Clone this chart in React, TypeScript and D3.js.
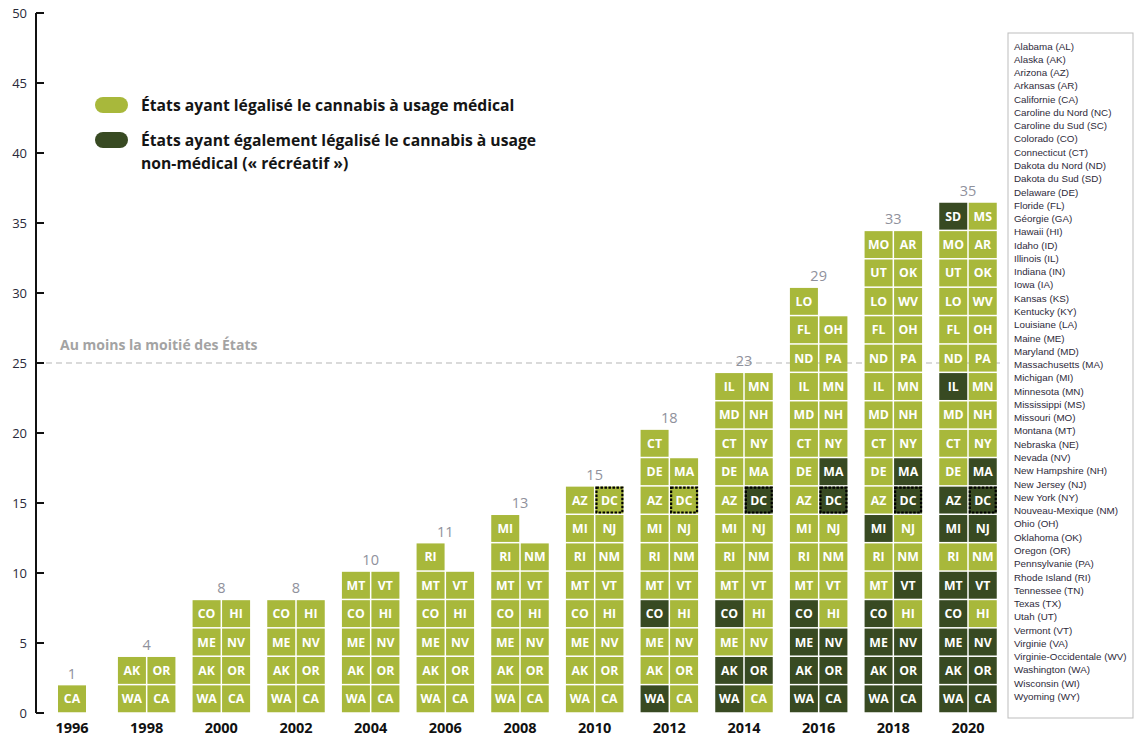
import React from "react";
import * as d3 from "d3";

const years = [1996, 1998, 2000, 2002, 2004, 2006, 2008, 2010, 2012, 2014, 2016, 2018, 2020];
const countLabels = [1, 4, 8, 8, 10, 11, 13, 15, 18, 23, 29, 33, 35];
const cellCounts = [1, 4, 8, 8, 10, 11, 13, 16, 19, 24, 29, 34, 36];
const stateStack = [
  "WA", "CA", "AK", "OR", "ME", "NV", "CO", "HI", "MT", "VT", "RI", "NM",
  "MI", "NJ", "AZ", "DC", "DE", "MA", "CT", "NY", "MD", "NH", "IL", "MN",
  "ND", "PA", "FL", "OH", "LO", "WV", "UT", "OK", "MO", "AR", "SD", "MS",
];
const firstYearStates = ["CA"];
const recreationalByYear = [
  "", "", "", "", "", "", "", "",
  "WA CO",
  "WA AK OR CO DC",
  "WA CA AK OR ME NV CO DC MA",
  "WA CA AK OR ME NV CO VT MI DC MA",
  "WA CA AK OR ME NV CO MT VT MI NJ AZ DC MA IL SD",
];
const dottedStates = ["DC"];
const yTicks = [0, 5, 10, 15, 20, 25, 30, 35, 40, 45, 50];
const halfLine = 25;
const legendItems = [
  ["États ayant légalisé le cannabis à usage médical"],
  ["États ayant également légalisé le cannabis à usage", "non-médical (« récréatif »)"],
];
const stateNames = [
  "Alabama (AL)", "Alaska (AK)", "Arizona (AZ)", "Arkansas (AR)", "Californie (CA)",
  "Caroline du Nord (NC)", "Caroline du Sud (SC)", "Colorado (CO)", "Connecticut (CT)",
  "Dakota du Nord (ND)", "Dakota du Sud (SD)", "Delaware (DE)", "Floride (FL)",
  "Géorgie (GA)", "Hawaii (HI)", "Idaho (ID)", "Illinois (IL)", "Indiana (IN)",
  "Iowa (IA)", "Kansas (KS)", "Kentucky (KY)", "Louisiane (LA)", "Maine (ME)",
  "Maryland (MD)", "Massachusetts (MA)", "Michigan (MI)", "Minnesota (MN)",
  "Mississippi (MS)", "Missouri (MO)", "Montana (MT)", "Nebraska (NE)", "Nevada (NV)",
  "New Hampshire (NH)", "New Jersey (NJ)", "New York (NY)", "Nouveau-Mexique (NM)",
  "Ohio (OH)", "Oklahoma (OK)", "Oregon (OR)", "Pennsylvanie (PA)", "Rhode Island (RI)",
  "Tennessee (TN)", "Texas (TX)", "Utah (UT)", "Vermont (VT)", "Virginie (VA)",
  "Virginie-Occidentale (WV)", "Washington (WA)", "Wisconsin (WI)", "Wyoming (WY)",
];

const LIGHT = "#a8b83b";
const DARK = "#384a22";
const FONT = "'Open Sans', Lato, sans-serif";
const LIST_FONT = "'Liberation Sans', Arial, sans-serif";

export default function App() {
  const W = 1135;
  const H = 738;
  const y = d3.scaleLinear().domain([0, 50]).range([713, 13]);
  const yCell = d3.scaleLinear().domain([0, 36]).range([713, 202]);
  const x = d3.scalePoint<number>().domain(years).range([72, 968]);
  const cellW = 29.5;
  const listY = d3.scaleLinear().domain([0, stateNames.length - 1]).range([49.5, 700]);

  const cells: any[] = [];
  const labels: any[] = [];
  years.forEach((yr, i) => {
    const cx = x(yr)!;
    const list = i === 0 ? firstYearStates : stateStack.slice(0, cellCounts[i]);
    const rec = recreationalByYear[i].split(" ").filter(Boolean);
    let topY = 713;
    list.forEach((s, k) => {
      const row = Math.floor(k / 2);
      const col = k % 2;
      const x0 = list.length === 1 ? cx - cellW / 2 : cx - cellW + col * cellW;
      const yb = yCell(row * 2);
      const yt = yCell(row * 2 + 2);
      topY = Math.min(topY, yt);
      const dark = rec.includes(s);
      cells.push(
        <g key={`${yr}-${s}`}>
          <rect x={x0 + 0.75} y={yt + 0.75} width={cellW - 1.5} height={yb - yt - 1.5} fill={dark ? DARK : LIGHT} />
          {dottedStates.includes(s) && yr >= 2010 && (
            <rect x={x0 + 1.8} y={yt + 1.8} width={cellW - 3.6} height={yb - yt - 3.6} fill="none" stroke="#000" strokeWidth={2.2} strokeDasharray="2.5,1.5" />
          )}
          <text x={x0 + cellW / 2} y={(yt + yb) / 2 + 4.5} textAnchor="middle" fill="#fff" fontFamily={FONT} fontWeight={700} fontSize={12.3}>
            {s}
          </text>
        </g>
      );
    });
    labels.push(
      <text key={`c${yr}`} x={cx} y={topY - 6} textAnchor="middle" fill="#8f919c" fontFamily={FONT} fontSize={14.5}>
        {countLabels[i]}
      </text>
    );
    labels.push(
      <text key={`y${yr}`} x={cx} y={733} textAnchor="middle" fill="#111" fontFamily={FONT} fontWeight={700} fontSize={14.5}>
        {yr}
      </text>
    );
  });

  return (
    <svg width={W} height={H} style={{ position: "absolute", left: 0, top: 0, display: "block", background: "#fff" }}>
      {/* half line */}
      <line x1={36} x2={1000} y1={y(halfLine)} y2={y(halfLine)} stroke="#b5b5b5" strokeWidth={1.2} strokeDasharray="6,4" />
      <text x={60} y={y(halfLine) - 13} fill="#a3a3a3" fontFamily={FONT} fontWeight={700} fontSize={14}>
        Au moins la moitié des États
      </text>
      {/* axis */}
      <line x1={36} x2={36} y1={y(50)} y2={y(0)} stroke="#111" strokeWidth={2} />
      {yTicks.map((t) => (
        <g key={t}>
          <line x1={36} x2={44} y1={y(t)} y2={y(t)} stroke="#111" strokeWidth={2} />
          <text x={27} y={y(t) + 5} textAnchor="end" fill="#2a2a3a" fontFamily={FONT} fontSize={13}>
            {t}
          </text>
        </g>
      ))}
      {cells}
      {labels}
      {/* legend */}
      {legendItems.map((lines, i) => (
        <g key={i}>
          <rect x={95} y={97 + i * 35} width={33} height={16} rx={8} fill={i === 0 ? LIGHT : DARK} />
          {lines.map((ln, j) => (
            <text key={j} x={141} y={110.5 + i * 35 + j * 23} fill="#151515" fontFamily={FONT} fontWeight={700} fontSize={15.7}>
              {ln}
            </text>
          ))}
        </g>
      ))}
      {/* state list */}
      <rect x={1008} y={33} width={125} height={685} fill="none" stroke="#bdbdbd" strokeWidth={1} />
      {stateNames.map((n, i) => (
        <text key={n} x={1014} y={listY(i)} fill="#2e2a3a" fontFamily={LIST_FONT} fontSize={9.8}>
          {n}
        </text>
      ))}
    </svg>
  );
}
